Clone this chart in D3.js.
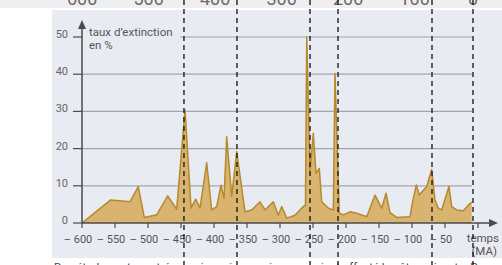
<!DOCTYPE html>
<html>
<head>
<meta charset="utf-8">
<script src="https://cdn.jsdelivr.net/npm/d3@7"></script>
<style>
  body { margin: 0; background: #fff; }
  svg { display: block; font-family: "Roboto", "Noto Sans", sans-serif; }
</style>
</head>
<body>
<div id="chart"></div>
<script>
 //age in millions of years (MA)
 var ages = [-600, -556.5, -527.3, -514.7, -505.6, -486.8, -470.2, -456.5, -443.9, -434.8,
     -427.7, -421.2, -411.1, -403.5, -395.9, -389.4, -384.8, -380.8, -373.2, -365.6,
     -353, -342.9, -330.3, -322.7, -310.2, -302.6, -297.4, -289.8, -277.3, -264.7,
     -261.4, -259.5, -254.5, -249.5, -245.5, -240.5, -236.8, -226.8, -219.2, -216.7,
     -210.2, -204.1, -194, -183.8, -168.6, -156, -145.9, -139.4, -133.3, -123.2,
     -103, -98.5, -93.5, -88.9, -77.7, -70.2, -65.2, -60.2, -55, -44,
     -39.8, -32.3, -22.3, -14.7, -9.5];
 //extinction rate in %
 var rates = [0, 6.2, 5.7, 9.8, 1.5, 2.2, 7.3, 3.7, 30.4, 4,
     6.4, 4, 16.2, 3.5, 4.4, 10.2, 6.6, 23.2, 7.1, 19.2,
     3, 3.5, 5.7, 3.5, 5.7, 2.1, 4.4, 1.3, 2.1, 4.4,
     4.8, 50, 14.2, 24.1, 13.4, 14.7, 5.7, 4, 3.5, 40.2,
     2.6, 2.2, 3, 2.6, 1.7, 7.5, 4, 8, 2.8, 1.5,
     1.7, 6.2, 10.2, 7.5, 9.8, 14.4, 6.2, 4, 3.5, 9.8,
     4.4, 3.5, 3.3, 4.8, 5.6];

 //dashed lines drawn over the scan (MA)
 var crises = [-445.5, -365.2, -254.5, -212.1, -69.7, -7.6];

 //tick values
 var xTicks = d3.range(-600, 1, 50);
 var xLabels = d3.range(-600, -49, 50);
 var yTicks = [0, 10, 20, 30, 40, 50];
 //cut-off scale of the figure above
 var topTicks = [-600, -500, -400, -300, -200, -100, 0];

 var data = ages.map(function (d, i) {
     return { age: d, rate: rates[i] };
 });

 var width = 502,
     height = 265;

 var svg = d3.select("#chart")
     .append("svg")
     .attr("width", width)
     .attr("height", height);

 //scales
 var xScale = d3.scaleLinear().domain([-600, 0]).range([82, 478]);
 var yScale = d3.scaleLinear().domain([0, 50]).range([223, 37]);
 var topScale = d3.scaleLinear().domain([-600, 0]).range([74, 473]);

 //top strip (previous figure, cut)
 svg.append("rect")
     .attr("x", 0).attr("y", 0)
     .attr("width", width).attr("height", 8)
     .attr("fill", "#efeff1");

 svg.selectAll(".toplab")
     .data(topTicks)
     .enter()
     .append("text")
     .attr("class", "toplab")
     .attr("x", function (d) { return topScale(d); })
     .attr("y", 5)
     .attr("text-anchor", "middle")
     .attr("font-size", "18px")
     .attr("fill", "#6a6a6a")
     .text(function (d) { return d == 0 ? "0" : "\u2013 " + (-d); });

 //plot background
 svg.append("rect")
     .attr("x", 52).attr("y", 10)
     .attr("width", width - 52).attr("height", 248)
     .attr("fill", "#e9ebf2");

 //horizontal grid
 svg.selectAll(".grid")
     .data(yTicks.slice(1))
     .enter()
     .append("line")
     .attr("class", "grid")
     .attr("x1", function (d) { return d == 50 ? 180 : 82; })
     .attr("x2", 472)
     .attr("y1", function (d) { return yScale(d); })
     .attr("y2", function (d) { return yScale(d); })
     .attr("stroke", "#a3a6ad")
     .attr("stroke-width", 1.2);

 //area
 var area = d3.area()
     .x(function (d) { return xScale(d.age); })
     .y0(yScale(0))
     .y1(function (d) { return yScale(d.rate); });

 var line = d3.line()
     .x(function (d) { return xScale(d.age); })
     .y(function (d) { return yScale(d.rate); });

 svg.append("path")
     .datum(data)
     .attr("d", area)
     .attr("fill", "#d8b470");

 svg.append("path")
     .datum(data)
     .attr("d", line)
     .attr("fill", "none")
     .attr("stroke", "#b48a2c")
     .attr("stroke-width", 1.5)
     .attr("stroke-linejoin", "round");

 //axes
 svg.append("line")
     .attr("x1", xScale(-600)).attr("x2", 492)
     .attr("y1", yScale(0)).attr("y2", yScale(0))
     .attr("stroke", "#4a4a4a").attr("stroke-width", 1.5);
 svg.append("path")
     .attr("d", "M498," + yScale(0) + "L489," + (yScale(0) - 4) + "L489," + (yScale(0) + 4) + "Z")
     .attr("fill", "#4a4a4a");

 svg.append("line")
     .attr("x1", xScale(-600)).attr("x2", xScale(-600))
     .attr("y1", yScale(0)).attr("y2", 28)
     .attr("stroke", "#4a4a4a").attr("stroke-width", 1.5);
 svg.append("path")
     .attr("d", "M" + xScale(-600) + ",20L" + (xScale(-600) - 4) + ",29L" + (xScale(-600) + 4) + ",29Z")
     .attr("fill", "#4a4a4a");

 //x ticks
 svg.selectAll(".xtick")
     .data(xTicks)
     .enter()
     .append("line")
     .attr("class", "xtick")
     .attr("x1", function (d) { return xScale(d); })
     .attr("x2", function (d) { return xScale(d); })
     .attr("y1", yScale(0))
     .attr("y2", yScale(0) + 5)
     .attr("stroke", "#4a4a4a")
     .attr("stroke-width", 1.2);

 svg.selectAll(".xlab")
     .data(xLabels)
     .enter()
     .append("text")
     .attr("class", "xlab")
     .attr("x", function (d) { return xScale(d) - 4; })
     .attr("y", 243)
     .attr("text-anchor", "middle")
     .attr("font-size", "11px")
     .attr("fill", "#555")
     .text(function (d) { return "\u2013 " + (-d); });

 //y ticks
 svg.selectAll(".ytick")
     .data(yTicks)
     .enter()
     .append("line")
     .attr("class", "ytick")
     .attr("x1", xScale(-600) - 9)
     .attr("x2", xScale(-600))
     .attr("y1", function (d) { return yScale(d); })
     .attr("y2", function (d) { return yScale(d); })
     .attr("stroke", "#4a4a4a")
     .attr("stroke-width", 1.2);

 svg.selectAll(".ylab")
     .data(yTicks)
     .enter()
     .append("text")
     .attr("class", "ylab")
     .attr("x", xScale(-600) - 14)
     .attr("y", function (d) { return yScale(d) + 1; })
     .attr("text-anchor", "end")
     .attr("font-size", "11px")
     .attr("fill", "#666")
     .text(function (d) { return d; });

 //axis titles
 svg.append("text")
     .attr("x", 89).attr("y", 36)
     .attr("font-size", "11.5px")
     .attr("fill", "#555")
     .text("taux d\u2019extinction");
 svg.append("text")
     .attr("x", 89).attr("y", 49)
     .attr("font-size", "11.5px")
     .attr("fill", "#555")
     .text("en %");
 svg.append("text")
     .attr("x", 499).attr("y", 242)
     .attr("text-anchor", "end")
     .attr("font-size", "11.5px")
     .attr("fill", "#555")
     .text("temps");
 svg.append("text")
     .attr("x", 497).attr("y", 255)
     .attr("text-anchor", "end")
     .attr("font-size", "11.5px")
     .attr("fill", "#555")
     .text("(MA)");

 //caption, cut at the bottom
 svg.append("rect")
     .attr("x", 52).attr("y", 258)
     .attr("width", width - 52).attr("height", 7)
     .attr("fill", "#fff");
 svg.append("text")
     .attr("x", 54).attr("y", 271)
     .attr("font-size", "11.5px")
     .attr("fill", "#444")
     .text("Des études ont montré que cinq crises majeures avaient affecté les êtres vivants. Pour chacune, on observe");

 //dashed lines
 svg.selectAll(".crise")
     .data(crises)
     .enter()
     .append("line")
     .attr("class", "crise")
     .attr("x1", function (d) { return xScale(d); })
     .attr("x2", function (d) { return xScale(d); })
     .attr("y1", 0)
     .attr("y2", height)
     .attr("stroke", "#111")
     .attr("stroke-width", 1.3)
     .attr("stroke-dasharray", "5,4");
</script>
</body>
</html>
